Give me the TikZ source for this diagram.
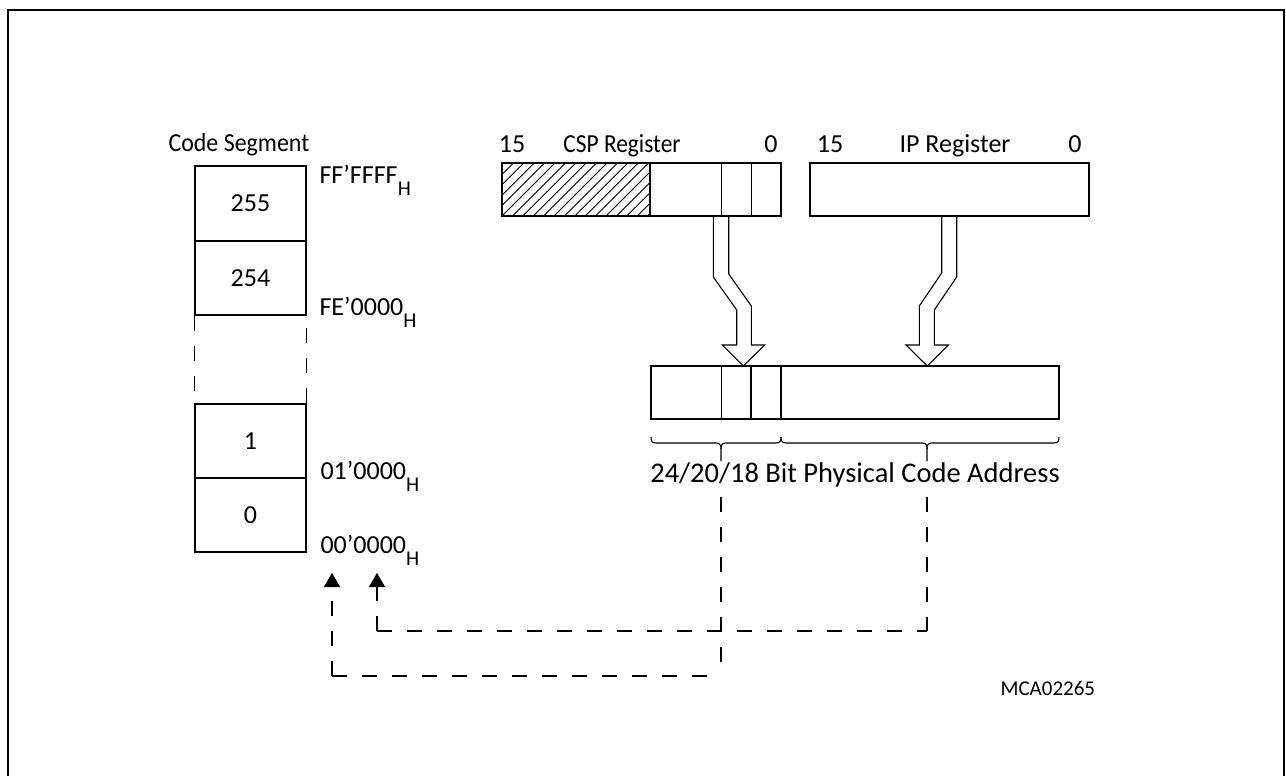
\documentclass[tikz,border=0pt]{standalone}
\usepackage{fontspec}
\setmainfont{Carlito}
\usetikzlibrary{arrows.meta}
\newcommand\subH{\raisebox{-12pt}{\fontsize{21}{21}\selectfont H}}
\begin{document}
\begin{tikzpicture}[x=1pt,y=-1pt,line width=1.1pt,
  box/.style={draw, rectangle, inner sep=0pt, line width=1.1pt, font=\fontsize{26}{26}\selectfont},
  lbl/.style={font=\fontsize{26}{26}\selectfont, inner sep=0pt, anchor=base},
  dashfifteen/.style={dash pattern=on 15pt off 15pt, line width=1.1pt},
  hollow/.style={line width=1.1pt, line join=miter},
  hatch/.style={line width=0.9pt},
  tri/.style={-{Triangle[length=14pt,width=16pt]}}
]
\useasboundingbox (0,0) rectangle (1286,776);
\draw[line width=2pt] (8,776) -- (8,10) -- (1284,10) -- (1284,776);

% code segment
\node[lbl, anchor=base west] (cs) at (168,151) {\scalebox{0.92}[1]{Code Segment}};
\node[box, minimum width=111pt, minimum height=75pt] (s255) at (250.5,203.5) {255};
\node[box, minimum width=111pt, minimum height=74pt] (s254) at (250.5,278) {254};
\node[box, minimum width=111pt, minimum height=74pt] (s1) at (250.5,441) {1};
\node[box, minimum width=111pt, minimum height=74pt] (s0) at (250.5,515) {0};
\draw[dashfifteen] (s254.south west) -- (s1.north west);
\draw[dashfifteen] (s1.north east) -- (s254.south east);

\node[lbl, anchor=base west] (aFF) at (319,183) {FF’FFFF\subH};
\node[lbl, anchor=base west] (aFE) at (319,315) {FE’0000\subH};
\node[lbl, anchor=base west] (a01) at (320,479) {01’0000\subH};
\node[lbl, anchor=base west] (a00) at (320,553) {00’0000\subH};

% registers
\node[lbl] (c15) at (512,152) {15};
\node[lbl] (cspl) at (622,152) {\scalebox{0.9}[1]{CSP Register}};
\node[lbl] (c0) at (771,152) {0};
\node[lbl] (i15) at (830,152) {15};
\node[lbl] (ipl) at (955,152) {IP Register};
\node[lbl] (i0) at (1075,152) {0};

\node[box, minimum width=279pt, minimum height=53pt] (csp) at (641.5,189.5) {};
\begin{scope}
  \clip (502,163) rectangle (650,216);
  \foreach \i in {-6,...,15} \draw[hatch] (502+\i*10.4,216) -- ++(53,-53);
\end{scope}
\draw (650,163) -- (650,216);
\draw (721.3,163) -- (721.3,216);
\draw (751.3,163) -- (751.3,216);

\node[box, minimum width=279pt, minimum height=53pt] (ip) at (949.5,189.5) {};

% physical address
\node[box, minimum width=408pt, minimum height=53pt] (phys) at (855,392.5) {};
\draw (721.3,366) -- (721.3,419);
\draw (751,366) -- (751,419);
\draw (781,366) -- (781,419);

% hollow arrows
\draw[hollow] (713.3,216) -- (713.3,277) -- (736.7,310) -- (736.7,345) -- (722.3,345)
  -- (743.3,366) -- (764.7,345) -- (751.3,345) -- (751.3,306) -- (728.7,274) -- (728.7,216);
\draw[hollow] (941.7,216) -- (941.7,273) -- (919.3,306) -- (919.3,345) -- (906,345)
  -- (927.3,366) -- (948.3,345) -- (934.3,345) -- (934.3,310) -- (956.7,277) -- (956.7,216);

% braces
\draw (651,437) .. controls (651,441) and (652,443) .. (656,443) -- (716,443)
  .. controls (720,443) and (721,445) .. (721,449) -- (721,461);
\draw (721,449) .. controls (721,445) and (722,443) .. (726,443) -- (776,443)
  .. controls (780,443) and (781,441) .. (781,437);
\draw (781,437) .. controls (781,441) and (782,443) .. (786,443) -- (922,443)
  .. controls (926,443) and (927,445) .. (927,449) -- (927,461);
\draw (927,449) .. controls (927,445) and (928,443) .. (932,443) -- (1054,443)
  .. controls (1058,443) and (1059,441) .. (1059,437);

\node[lbl, font=\fontsize{28.5}{28.5}\selectfont] (addr) at (855,482) {24/20/18 Bit Physical Code Address};

% dashed return paths
\coordinate (b1) at (721,497);
\coordinate (c1) at (721,676);
\coordinate (c2) at (332,676);
\coordinate (t1) at (332,573);
\coordinate (b2) at (927,497);
\coordinate (d1) at (927,631);
\coordinate (d2) at (377,631);
\coordinate (t2) at (377,573);
\draw[dashfifteen] (b1) -- (c1);
\draw[dashfifteen] (c2) -- (c1);
\draw[dashfifteen, tri] (c2) -- (t1);
\draw[dashfifteen] (b2) -- (d1);
\draw[dashfifteen] (d2) -- (d1);
\draw[dashfifteen, tri] (d2) -- (t2);

\node[lbl, font=\fontsize{21}{21}\selectfont, anchor=base west] (mca) at (1000,695) {MCA02265};
\end{tikzpicture}
\end{document}
